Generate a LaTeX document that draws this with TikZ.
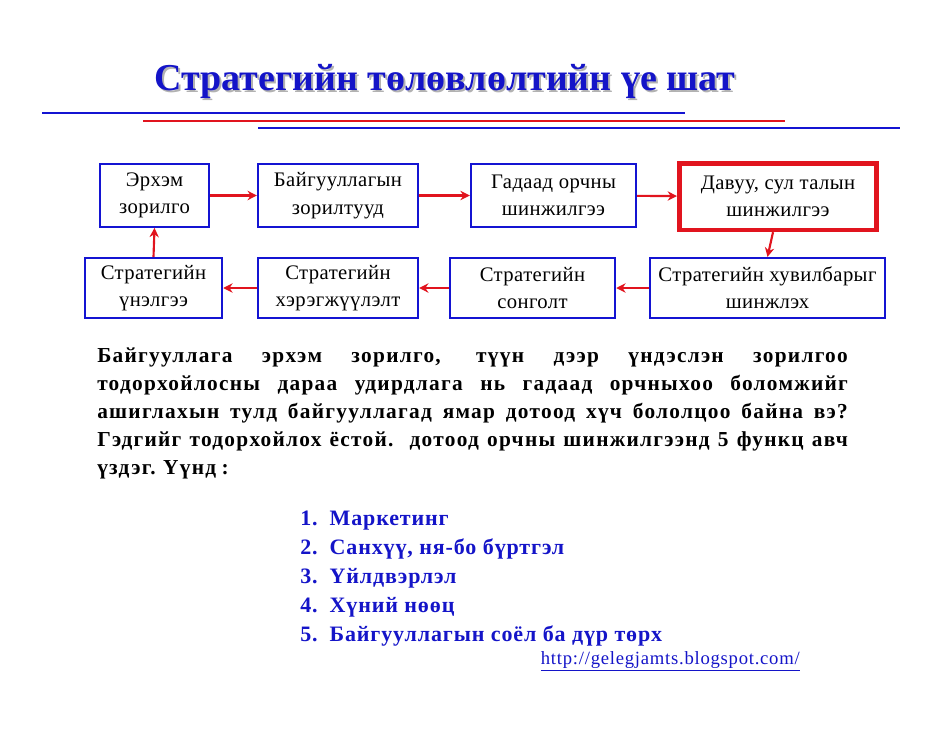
\documentclass[tikz,border=0pt]{standalone}
\usepackage{fontspec}
\setmainfont{Liberation Serif}
\usetikzlibrary{arrows.meta,positioning}

\definecolor{ttlblue}{RGB}{20,20,200}
\definecolor{boxblue}{RGB}{20,20,210}
\definecolor{arrred}{RGB}{225,20,30}

\begin{document}
\begin{tikzpicture}[
  x=0.75pt, y=-0.75pt,
  >={Stealth[length=7pt,width=7pt]},
  stage/.style={rectangle, draw=boxblue, line width=1.6pt, align=center, font=\fontsize{15.5}{20.5}\selectfont\addfontfeatures{LetterSpace=2}, inner sep=1pt},
  keystage/.style={stage, draw=arrred, line width=3.5pt},
  line/.style={draw=arrred, line width=1.6pt, ->}
]
\useasboundingbox (0,0) rectangle (942,728);

% title and rules
\node[font=\fontsize{28.5}{32}\selectfont\bfseries, text=black!30] at (447,83) {Стратегийн төлөвлөлтийн үе шат};
\node[font=\fontsize{28.5}{32}\selectfont\bfseries, text=ttlblue] (title) at (445,81) {Стратегийн төлөвлөлтийн үе шат};
\draw[boxblue, line width=2pt] (42,113) -- (685,113);
\draw[arrred, line width=2pt] (143,121) -- (785,121);
\draw[boxblue, line width=2pt] (258,128) -- (900,128);

% top row
\node[stage, minimum width=82pt, minimum height=47pt] (goal) at (154.5,195.5) {Эрхэм\\зорилго};
\node[stage, minimum width=120pt, minimum height=47pt] (objs) at (338,195.5) {Байгууллагын\\зорилтууд};
\node[stage, minimum width=124pt, minimum height=47pt] (ext) at (553.5,195.5) {Гадаад орчны\\шинжилгээ};
\node[keystage, minimum width=148pt, minimum height=50pt] (swot) at (778,196.5) {Давуу, сул талын\\шинжилгээ};

% bottom row
\node[stage, minimum width=103pt, minimum height=45pt] (eval) at (153.5,288) {Стратегийн\\үнэлгээ};
\node[stage, minimum width=120pt, minimum height=45pt] (impl) at (338,288) {Стратегийн\\хэрэгжүүлэлт};
\node[stage, minimum width=124pt, minimum height=45pt] (choice) at (532.5,288) {Стратегийн\\сонголт};
\node[stage, minimum width=176pt, minimum height=45pt] (alt) at (767.5,288) {Стратегийн хувилбарыг\\шинжлэх};

\path[line] (goal) -- (objs);
\path[line] (objs) -- (ext);
\path[line] (ext) -- (swot);
\path[line] (swot.south) ++(-5,0) coordinate (swotb) (swotb) -- (alt.north);
\path[line] (alt) -- (choice);
\path[line] (choice) -- (impl);
\path[line] (impl) -- (eval);
\path[line] (eval.north) -- (goal.south);

% text
\node[anchor=north west, inner sep=0pt, font=\fontsize{16}{21}\selectfont\bfseries\addfontfeatures{LetterSpace=6}] (para) at (97,348)
  {\parbox{563pt}{\fontdimen2\font=4pt Байгууллага эрхэм зорилго, түүн дээр үндэслэн зорилгоо тодорхойлосны дараа удирдлага нь гадаад орчныхоо боломжийг ашиглахын тулд байгууллагад ямар дотоод хүч бололцоо байна вэ? Гэдгийг тодорхойлох ёстой. дотоод орчны шинжилгээнд 5 функц авч үздэг. Үүнд :}};

\node[anchor=north west, inner sep=0pt, text=ttlblue, font=\fontsize{16.5}{21.75}\selectfont\bfseries\addfontfeatures{LetterSpace=4}] (list) at (300,505)
  {\begin{tabular}{@{}l@{\hspace{9pt}}l@{}}
  1. & Маркетинг\\
  2. & Санхүү, ня-бо бүртгэл\\
  3. & Үйлдвэрлэл\\
  4. & Хүний нөөц\\
  5. & Байгууллагын соёл ба дүр төрх
  \end{tabular}};
\node[text=ttlblue, font=\fontsize{14}{16}\selectfont\addfontfeatures{LetterSpace=4}, anchor=east, inner sep=0pt] (url) at (800,661) {\underline{http://gelegjamts.blogspot.com/}};
\end{tikzpicture}
\end{document}
